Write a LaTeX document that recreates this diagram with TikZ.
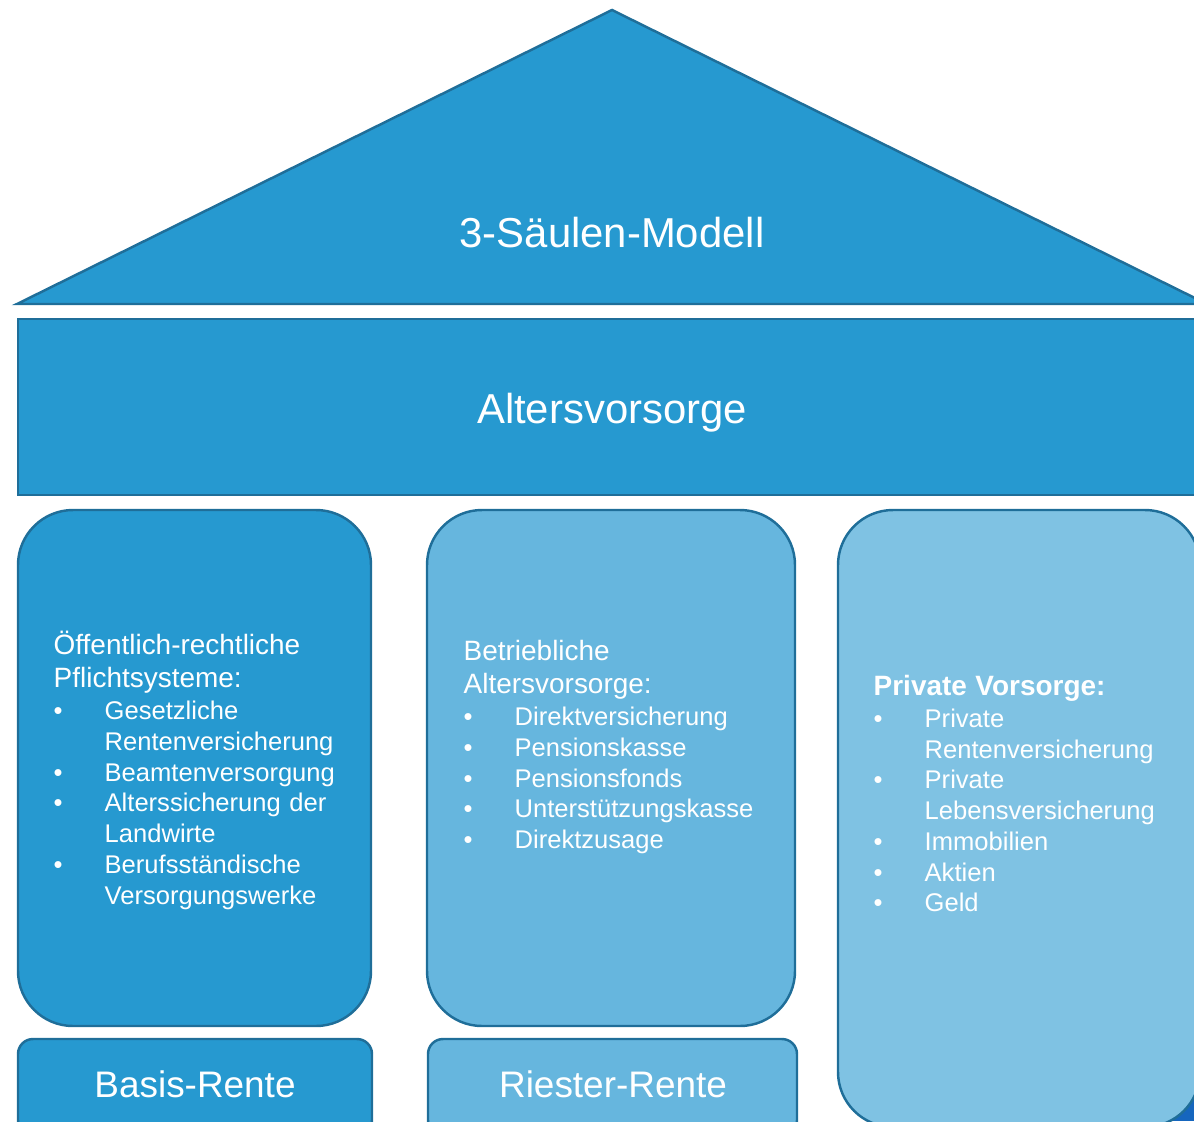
\documentclass[tikz,border=0pt]{standalone}
\usepackage{fontspec}
\setmainfont{Liberation Sans}
\definecolor{darkBlue}{RGB}{38,153,208}
\definecolor{midBlue}{RGB}{102,182,222}
\definecolor{lightBlue}{RGB}{127,194,227}
\definecolor{edgeBlue}{RGB}{31,110,153}
\definecolor{cornerBlue}{RGB}{22,102,190}
\tikzstyle{roof} = [fill=darkBlue, draw=edgeBlue, line width=0.7pt]
\tikzstyle{pillar} = [draw=edgeBlue, line width=0.7pt, rounded corners=0.55cm]
\tikzstyle{baseBox} = [draw=edgeBlue, line width=0.7pt, rounded corners=0.15cm]
\tikzstyle{bigText} = [text=white, inner sep=0pt, anchor=base, font=\fontsize{11.9}{14}\selectfont]
\tikzstyle{baseText} = [text=white, inner sep=0pt, anchor=base, font=\fontsize{10.5}{12}\selectfont]
\tikzstyle{listText} = [text=white, inner sep=0pt, anchor=base west, text width=3.2cm, align=left, font=\fontsize{7.27}{8.74}\selectfont]
\newcommand{\itemDot}{\makebox[14.5pt][l]{\textbullet}}
\newcommand{\itemGap}{\hspace*{14.5pt}}
\newcommand{\headFont}{\fontsize{7.95}{8.74}\selectfont}

\begin{document}
\begin{tikzpicture}[x=0.01cm, y=-0.01cm]
		\useasboundingbox (0,0) rectangle (1194,1121);
		\clip (0,0) rectangle (1194,1121);
		% roof and beam
		\draw [roof] (17,304) -- (612,10) -- (1207,304) -- cycle;
		\draw [roof] (18,319) rectangle (1206,495);
		\node (modelText) [bigText] at (612,247) {3-Säulen-Modell};
		\node (pensionText) [bigText] at (612,423) {Altersvorsorge};
		% pillars
		\fill [cornerBlue] (1140,1085) rectangle (1194,1121);
		\draw [pillar, fill=darkBlue] (18,510) rectangle (371,1026);
		\draw [pillar, fill=midBlue] (427,510) rectangle (795,1026);
		\draw [pillar, fill=lightBlue] (838,510) rectangle (1200,1127);
		\node (publicText) [listText] at (53,654) {{\headFont Öffentlich-rechtliche}\\[0.9pt]{\headFont Pflichtsysteme:}\\[0.3pt]\itemDot Gesetzliche\\\itemGap Rentenversicherung\\\itemDot Beamtenversorgung\\\itemDot Alterssicherung der\\\itemGap Landwirte\\\itemDot Berufsständische\\\itemGap Versorgungswerke};
		\node (companyText) [listText] at (463,660) {{\headFont Betriebliche}\\[0.9pt]{\headFont Altersvorsorge:}\\[0.3pt]\itemDot Direktversicherung\\\itemDot Pensionskasse\\\itemDot Pensionsfonds\\\itemDot Unterstützungskasse\\\itemDot Direktzusage};
		\node (privateText) [listText] at (873,695) {{\headFont\bfseries Private Vorsorge:}\\[0.5pt]\itemDot Private\\\itemGap Rentenversicherung\\\itemDot Private\\\itemGap Lebensversicherung\\\itemDot Immobilien\\\itemDot Aktien\\\itemDot Geld};
		% base boxes
		\draw [baseBox, fill=darkBlue] (18,1039) rectangle (372,1135);
		\draw [baseBox, fill=midBlue] (428,1039) rectangle (797,1135);
		\node (basisText) [baseText] at (195,1097) {Basis-Rente};
		\node (riesterText) [baseText] at (613,1097) {Riester-Rente};
	\end{tikzpicture}
\end{document}
